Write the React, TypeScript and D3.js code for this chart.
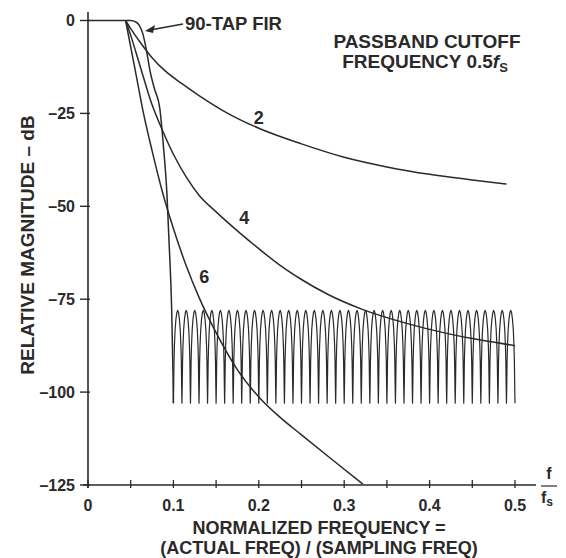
import React from 'react';
import * as d3 from 'd3';

const W = 566;
const H = 558;

// axis ticks
const xTicks = [0, 0.1, 0.2, 0.3, 0.4, 0.5];
const xMinorTicks = [0.05, 0.15, 0.25, 0.35, 0.45];
const yTicks = [0, -25, -50, -75, -100, -125];

// [normalized frequency, dB]
const order2: [number, number][] = [
  [0.044, 0], [0.05, -2.2], [0.06, -5.5], [0.075, -10], [0.09, -13.5], [0.11, -17],
  [0.13, -20.2], [0.16, -24.5], [0.2, -29], [0.25, -33.2], [0.3, -36.8], [0.35, -39.4],
  [0.4, -41.4], [0.45, -42.9], [0.49, -44],
];

const order4: [number, number][] = [
  [0.044, 0], [0.05, -4], [0.06, -11.5], [0.074, -22], [0.088, -30], [0.1, -36],
  [0.116, -42.5], [0.13, -47], [0.15, -51.5], [0.178, -57.2], [0.2, -61.4], [0.225, -65.9],
  [0.25, -69.7], [0.28, -73.6], [0.322, -77.8], [0.37, -81.3], [0.42, -84.2], [0.46, -86],
  [0.5, -87.5],
];

const order6: [number, number][] = [
  [0.044, 0], [0.055, -13], [0.065, -25], [0.075, -35], [0.087, -46], [0.1, -56],
  [0.115, -66], [0.13, -74.5], [0.15, -84], [0.175, -94], [0.2, -101.3], [0.225, -106.8],
  [0.25, -111.5], [0.285, -118], [0.322, -124.8],
];

const firTransition: [number, number][] = [
  [0, 0], [0.05, 0], [0.056, -0.4], [0.06, -1.3], [0.064, -3.4], [0.068, -7.5],
  [0.073, -14], [0.078, -18.5], [0.084, -23.5], [0.088, -33], [0.0925, -47],
  [0.095, -60], [0.098, -78], [0.0995, -95], [0.1, -103],
];

// stopband nulls of the FIR, peak level and clip floor
const firNulls = [
  0.1, 0.11, 0.12, 0.13, 0.14, 0.15, 0.16, 0.17, 0.18, 0.19,
  0.2, 0.21, 0.22, 0.23, 0.24, 0.25, 0.26, 0.27, 0.28, 0.29,
  0.3, 0.31, 0.32, 0.33, 0.34, 0.35, 0.36, 0.37, 0.38, 0.39,
  0.4, 0.41, 0.42, 0.43, 0.44, 0.45, 0.46, 0.47, 0.48, 0.49, 0.5,
];
const firPeak = -78;
const firFloor = -103;
// half a lobe: [fraction of lobe width, dB below peak]
const lobeHalf: [number, number][] = [
  [0, -25], [0.03, -21], [0.07, -14], [0.12, -9.5], [0.2, -5.2], [0.3, -2.3], [0.4, -0.6], [0.5, 0],
];

const x = d3.scaleLinear().domain([0, 0.5]).range([88, 515]);
const y = d3.scaleLinear().domain([0, -125]).range([20.5, 485]);

const line = d3.line<[number, number]>()
  .x(d => x(d[0]))
  .y(d => y(d[1]))
  .curve(d3.curveMonotoneX);

const lineLinear = d3.line<[number, number]>()
  .x(d => x(d[0]))
  .y(d => y(d[1]));

function stopbandPoints(): [number, number][] {
  const pts: [number, number][] = [];
  const full = [...lobeHalf, ...lobeHalf.slice(0, -1).reverse().map(([t, v]) => [1 - t, v] as [number, number])];
  for (let i = 0; i < firNulls.length - 1; i++) {
    const a = firNulls[i];
    const b = firNulls[i + 1];
    full.forEach(([t, v], j) => {
      if (i > 0 && j === 0) return;
      pts.push([a + (b - a) * t, Math.max(firFloor, firPeak + v)]);
    });
  }
  return pts;
}

const ink = '#2a2a2a';
const font = '"Liberation Sans", Arial, Helvetica, sans-serif';

export default function App() {
  const axisY = y(-125);
  const axisX = x(0);
  return (
    <svg width={W} height={H} style={{ position: 'absolute', left: 0, top: 0, background: '#fff' }}
      fontFamily={font} fill={ink}>
      <rect width={W} height={H} fill="#fff" />
      {/* axes */}
      <line x1={axisX} x2={axisX} y1={12} y2={axisY + 3} stroke={ink} strokeWidth={1.6} />
      <line x1={axisX - 5} x2={536} y1={axisY} y2={axisY} stroke={ink} strokeWidth={1.6} />
      {yTicks.map(t => (
        <g key={t}>
          <line x1={axisX - 8} x2={axisX + 2} y1={y(t)} y2={y(t)} stroke={ink} strokeWidth={1.4} />
          <text x={axisX - 13} y={y(t)} dy="0.36em" textAnchor="end" fontSize={16} fontWeight="bold">
            {t === 0 ? '0' : `\u2013${Math.abs(t)}`}
          </text>
        </g>
      ))}
      {[...xTicks, ...xMinorTicks].map(t => (
        <line key={t} x1={x(t)} x2={x(t)} y1={axisY - 5} y2={axisY + 3} stroke={ink} strokeWidth={1.3} />
      ))}
      {xTicks.map(t => (
        <text key={t} x={x(t)} y={axisY + 26} textAnchor="middle" fontSize={16} fontWeight="bold">
          {t === 0 ? '0' : String(t)}
        </text>
      ))}
      {/* f / fs */}
      <text x={549} y={axisY - 6} textAnchor="middle" fontSize={16} fontWeight="bold">f</text>
      <line x1={541} x2={557} y1={axisY + 1} y2={axisY + 1} stroke={ink} strokeWidth={1.2} />
      <text x={547} y={axisY + 18} textAnchor="middle" fontSize={16} fontWeight="bold">
        f<tspan fontSize={12} dy={3}>s</tspan>
      </text>

      {/* axis titles */}
      <text x={319} y={534} textAnchor="middle" fontSize={18} fontWeight="bold">NORMALIZED FREQUENCY =</text>
      <text x={319} y={554} textAnchor="middle" fontSize={18} fontWeight="bold">(ACTUAL FREQ) / (SAMPLING FREQ)</text>
      <text transform="translate(34,245) rotate(-90)" textAnchor="middle" fontSize={19} fontWeight="bold">
        RELATIVE MAGNITUDE – dB
      </text>

      {/* curves */}
      <g fill="none" stroke={ink} strokeWidth={1.5} strokeLinejoin="round">
        <path d={line(order2) ?? ''} />
        <path d={line(order4) ?? ''} />
        <path d={line(order6) ?? ''} />
        <path d={line(firTransition) ?? ''} />
        <path d={lineLinear(stopbandPoints()) ?? ''} strokeWidth={1.2} />
      </g>

      {/* curve labels */}
      <text x={x(0.2)} y={y(-26)} dy="0.36em" textAnchor="middle" fontSize={18} fontWeight="bold">2</text>
      <text x={x(0.183)} y={y(-53)} dy="0.36em" textAnchor="middle" fontSize={18} fontWeight="bold">4</text>
      <text x={x(0.136)} y={y(-69)} dy="0.36em" textAnchor="middle" fontSize={18} fontWeight="bold">6</text>

      {/* annotations */}
      <text x={185} y={30} fontSize={18.5} fontWeight="bold">90-TAP FIR</text>
      <line x1={183} y1={24} x2={150} y2={30} stroke={ink} strokeWidth={1.4} />
      <path d="M145,31 L155,25 L153,33 Z" fill={ink} />
      <text x={427} y={48} textAnchor="middle" fontSize={19} fontWeight="bold">PASSBAND CUTOFF</text>
      <text x={425} y={68} textAnchor="middle" fontSize={19} fontWeight="bold">
        FREQUENCY 0.5<tspan fontStyle="italic">f</tspan><tspan fontSize={13} dy={4}>S</tspan>
      </text>
    </svg>
  );
}
